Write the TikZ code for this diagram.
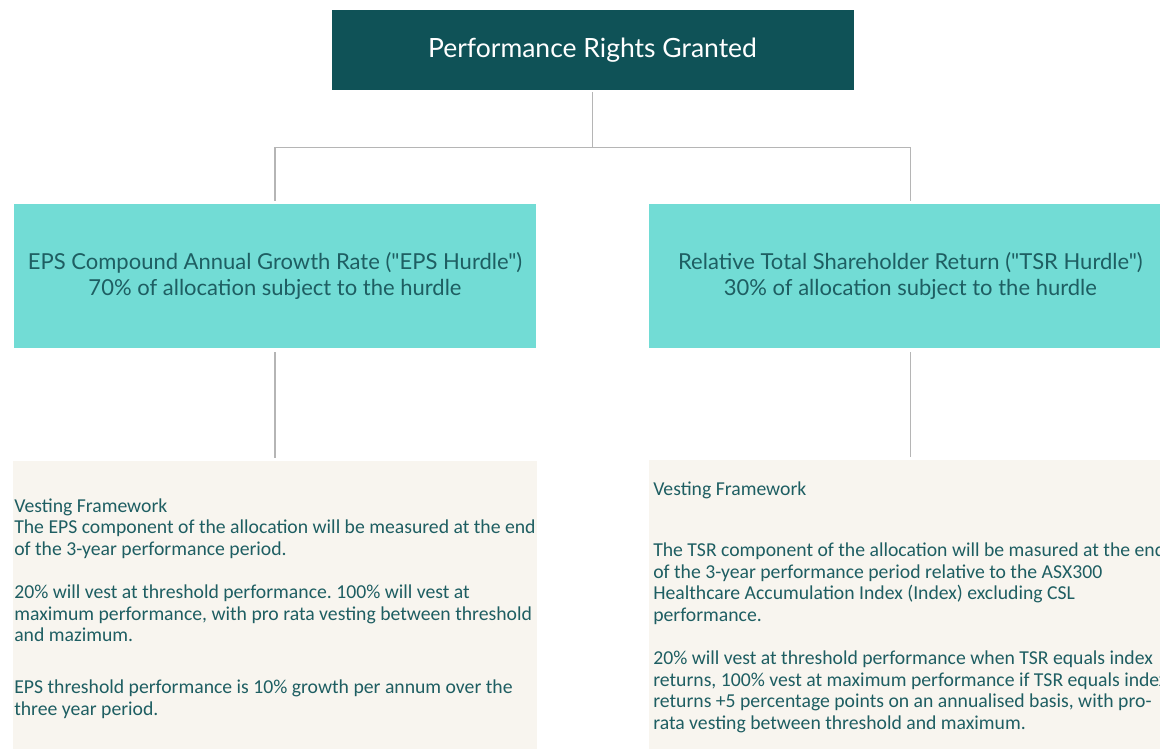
\documentclass[tikz,border=0pt]{standalone}
\usepackage{fontspec}
\setmainfont{Carlito}
\newfontfamily\headfont{Lato}
\usepackage{xcolor}
\usetikzlibrary{positioning, calc}
\definecolor{granteddark}{HTML}{0F5257}
\definecolor{hurdleaqua}{HTML}{72DCD5}
\definecolor{vestcream}{HTML}{F8F5EF}
\definecolor{inkteal}{HTML}{1E5E62}
\definecolor{linkgrey}{HTML}{B5B5B5}
\frenchspacing

\begin{document}
\begin{tikzpicture}[x=1pt, y=-1pt, node distance=113pt,
    topbox/.style={fill=granteddark, text=white, minimum width=522pt, minimum height=80pt, font=\headfont\fontsize{26.5}{30}\selectfont},
    hurdle/.style={fill=hurdleaqua, text=inkteal, minimum width=522pt, minimum height=144pt, align=center, font=\headfont\fontsize{22}{26}\selectfont},
    vesting/.style={fill=vestcream, text=inkteal, minimum width=522pt, minimum height=294pt, inner sep=1pt, align=left, font=\fontsize{19.7}{21.6}\selectfont},
    link/.style={draw=linkgrey, line width=1.4pt}]
    \useasboundingbox (0,0) rectangle (1160,748);
    \clip (0,0) rectangle (1160,748);

    \node [topbox] (granted) at (592.5,50) {Performance Rights Granted};
    \node [hurdle] (eps) at (275,276) {EPS Compound Annual Growth Rate ("EPS Hurdle")\\70\% of allocation subject to the hurdle};
    \node [hurdle, right=of eps] (tsr) {Relative Total Shareholder Return ("TSR Hurdle")\\30\% of allocation subject to the hurdle};
    \node [vesting, below=of eps] (epsvest) {Vesting Framework\\
        The EPS component of the allocation will be measured at the end\\
        of the 3-year performance period.\\[21.6pt]
        20\% will vest at threshold performance. 100\% will vest at\\
        maximum performance, with pro rata vesting between threshold\\
        and mazimum.\\[30pt]
        EPS threshold performance is 10\% growth per annum over the\\
        three year period.};
    \node [vesting, below=112pt of tsr] (tsrvest) {Vesting Framework\\[39pt]
        The TSR component of the allocation will be masured at the end\\
        of the 3-year performance period relative to the ASX300\\
        Healthcare Accumulation Index (Index) excluding CSL\\
        performance.\\[21.6pt]
        20\% will vest at threshold performance when TSR equals index\\
        returns, 100\% vest at maximum performance if TSR equals index\\
        returns +5 percentage points on an annualised basis, with pro-\\
        rata vesting between threshold and maximum.};

    \coordinate (fork) at ($(granted.south)+(0,57)$);
    \draw [link, shorten <=2pt] (granted) -- (fork);
    \draw [link, shorten >=3pt] (fork) -| (eps);
    \draw [link, shorten >=3pt] (fork) -| (tsr);
    \draw [link, shorten <=4pt, shorten >=3pt] (eps) -- (epsvest);
    \draw [link, shorten <=4pt, shorten >=3pt] (tsr) -- (tsrvest);
\end{tikzpicture}
\end{document}
